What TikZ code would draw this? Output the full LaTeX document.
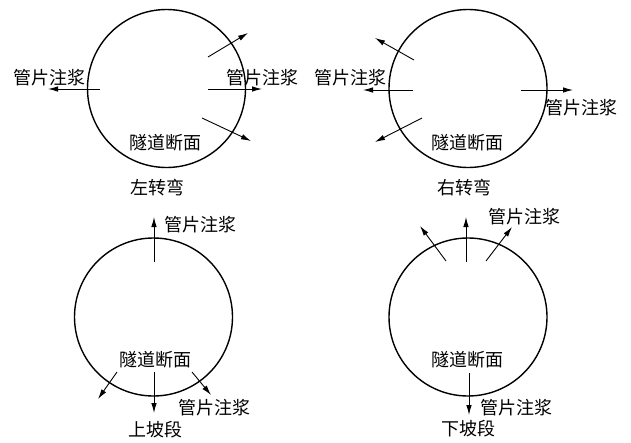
\documentclass[tikz,border=0pt]{standalone}
\usepackage{fontspec}
\newfontfamily\cjk{Noto Sans CJK SC}
\usetikzlibrary{arrows.meta}
\begin{document}
\begin{tikzpicture}[x=1pt,y=-1pt,
  ring/.style={draw,circle,line width=1.4pt,minimum size=158pt,inner sep=0pt},
  arr/.style={-{Latex[length=10pt,width=5.5pt]},line width=0.9pt},
  lbl/.style={font=\cjk\fontsize{18}{18}\selectfont,inner sep=0pt}]
\useasboundingbox (0,0) rectangle (631,442);
% ---------- top left ----------
\node[ring] (c1) at (166.5,88.5) {};
\coordinate (a1s) at (100,89); \coordinate (a1e) at (48,89);
\coordinate (a2s) at (208,89); \coordinate (a2e) at (262,89);
\coordinate (a3s) at (208,57); \coordinate (a3e) at (248,33);
\coordinate (a4s) at (202,118); \coordinate (a4e) at (251,141);
\draw[arr] (a1s) -- (a1e);
\draw[arr] (a2s) -- (a2e);
\draw[arr] (a3s) -- (a3e);
\draw[arr] (a4s) -- (a4e);
\node[lbl] (l1) at (49,78) {管片注浆};
\node[lbl] (l2) at (262,78) {管片注浆};
\node[lbl] (s1) at (165,143) {隧道断面};
\node[lbl] (t1) at (157,188) {左转弯};
% ---------- top right ----------
\node[ring] (c2) at (468,88.5) {};
\coordinate (b1s) at (413,90); \coordinate (b1e) at (363,90);
\coordinate (b2s) at (414,60); \coordinate (b2e) at (375,38);
\coordinate (b3s) at (422,118); \coordinate (b3e) at (375,142);
\coordinate (b4s) at (521,90); \coordinate (b4e) at (573,90);
\draw[arr] (b1s) -- (b1e);
\draw[arr] (b2s) -- (b2e);
\draw[arr] (b3s) -- (b3e);
\draw[arr] (b4s) -- (b4e);
\node[lbl] (m1) at (350,78) {管片注浆};
\node[lbl] (m2) at (581,108) {管片注浆};
\node[lbl] (s2) at (467,143) {隧道断面};
\node[lbl] (t2) at (464,188) {右转弯};
% ---------- bottom left ----------
\node[ring] (c3) at (153.5,317) {};
\coordinate (d1s) at (154,262); \coordinate (d1e) at (154,217);
\coordinate (d2s) at (117,372); \coordinate (d2e) at (98,399);
\coordinate (d3s) at (154,372); \coordinate (d3e) at (154,413);
\coordinate (d4s) at (192,372); \coordinate (d4e) at (211,395);
\draw[arr] (d1s) -- (d1e);
\draw[arr] (d2s) -- (d2e);
\draw[arr] (d3s) -- (d3e);
\draw[arr] (d4s) -- (d4e);
\node[lbl] (n1) at (200,225) {管片注浆};
\node[lbl] (n2) at (214,408) {管片注浆};
\node[lbl] (s3) at (155.5,360) {隧道断面};
\node[lbl] (t3) at (155,430) {上坡段};
% ---------- bottom right ----------
\node[ring] (c4) at (468,317) {};
\coordinate (e1s) at (466,262); \coordinate (e1e) at (466,217);
\coordinate (e2s) at (446,261); \coordinate (e2e) at (420,226);
\coordinate (e3s) at (486,261); \coordinate (e3e) at (512,227);
\coordinate (e4s) at (469,373); \coordinate (e4e) at (469,415);
\draw[arr] (e1s) -- (e1e);
\draw[arr] (e2s) -- (e2e);
\draw[arr] (e3s) -- (e3e);
\draw[arr] (e4s) -- (e4e);
\node[lbl] (o1) at (524,217) {管片注浆};
\node[lbl] (o2) at (516,408) {管片注浆};
\node[lbl] (s4) at (467,360) {隧道断面};
\node[lbl] (t4) at (468,429) {下坡段};
\end{tikzpicture}
\end{document}
